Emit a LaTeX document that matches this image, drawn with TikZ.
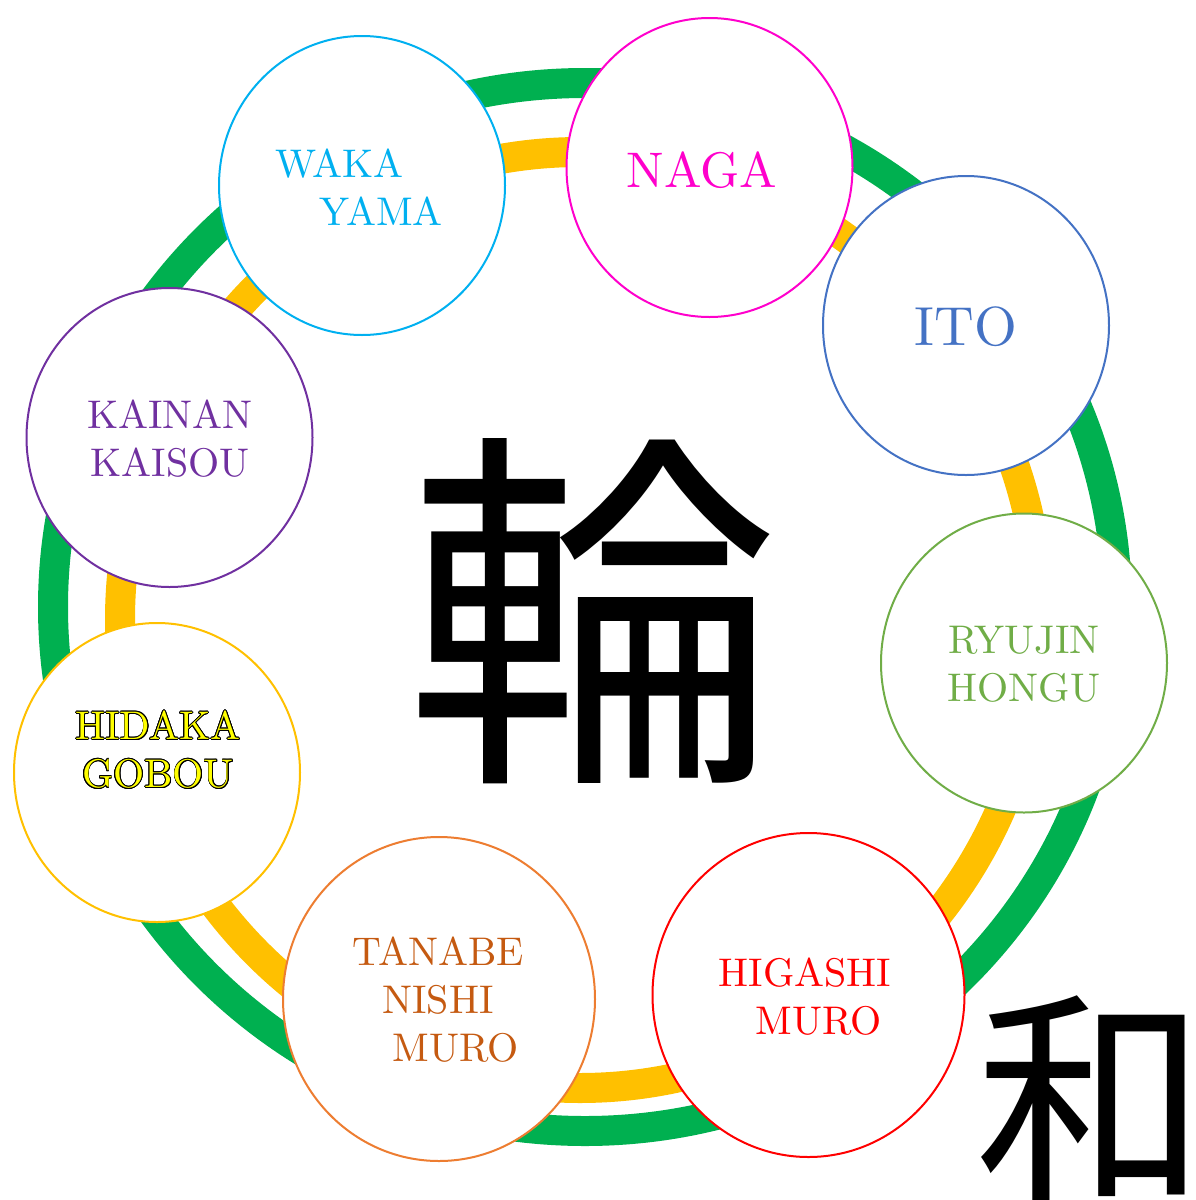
\documentclass[tikz,border=0pt]{standalone}
\usepackage{fontspec}
\setmainfont{lmroman10-regular.otf}
\newfontfamily\cjk{Noto Sans CJK JP}
\usepackage{contour}
\contourlength{0.7pt}
\usetikzlibrary{shapes.geometric}
\definecolor{ringgreen}{HTML}{00B050}
\definecolor{ringyellow}{HTML}{FFC000}
\definecolor{cmag}{HTML}{FF00CC}
\definecolor{ccyan}{HTML}{00B0F0}
\definecolor{cblue}{HTML}{4472C4}
\definecolor{cgreen}{HTML}{70AD47}
\definecolor{cred}{HTML}{FF0000}
\definecolor{corange}{HTML}{ED7D31}
\definecolor{corangetext}{HTML}{C55A11}
\definecolor{cpurple}{HTML}{7030A0}
\definecolor{cyellow}{HTML}{FFFF00}
\tikzset{
  station/.style={ellipse, draw=#1, fill=white, line width=2pt, inner sep=0pt,
    minimum width=286pt, minimum height=299pt},
  bigstation/.style={station=#1, minimum width=312pt, minimum height=324pt},
  lbl/.style={text=#1, inner sep=0pt, align=center, font=\fontsize{40}{48}\selectfont},
  ring/.style={line width=30pt, draw=#1}
}
\begin{document}
\begin{tikzpicture}[x=1pt,y=-1pt]
\useasboundingbox (0,0) rectangle (1195,1200);
% rings
\draw[ring=ringgreen] (585,607) ellipse [x radius=532pt, y radius=524pt];
\draw[ring=ringyellow] (580,620) ellipse [x radius=460pt, y radius=468pt];
% stations
\node[station=ccyan] (waka) at (362,185.5) {};
\node[station=cmag] (naga) at (709.5,167.5) {};
\node[station=cblue] (ito) at (966,325.5) {};
\node[station=cgreen] (ryujin) at (1024,663) {};
\node[bigstation=cred] (higashi) at (808.5,995) {};
\node[bigstation=corange] (tanabe) at (439,999) {};
\node[station=ringyellow] (hidaka) at (157,772.5) {};
\node[station=cpurple] (kainan) at (169.5,437.5) {};
% labels
\node[lbl=ccyan, align=left] (waka-t) at (359,187) {WAKA\\\hspace*{44pt}YAMA};
\node[lbl=cmag, font=\fontsize{50}{56}\selectfont] (naga-t) at (702,170) {NAGA};
\node[lbl=cblue, font=\fontsize{55}{60}\selectfont] (ito-t) at (966,327) {ITO};
\node[lbl=cgreen] (ryujin-t) at (1024,664) {RYUJIN\\HONGU};
\node[lbl=cred, align=left] (higashi-t) at (805,997) {HIGASHI\\\hspace*{37pt}MURO};
\node[lbl=corangetext] (tanabe-t) at (438,1000) {TANABE\\NISHI\\\hspace*{36pt}MURO};
\node[lbl=cyellow] (hidaka-t) at (158,750) {\contour{black}{HIDAKA}\\\contour{black}{GOBOU}};
\node[lbl=cpurple] (kainan-t) at (170,439) {KAINAN\\KAISOU};
% kanji
\node[inner sep=0pt, font=\cjk\fontsize{375}{375}\selectfont] (wa-center) at (593,611) {輪};
\node[inner sep=0pt, font=\cjk\fontsize{232}{232}\selectfont] (wa-corner) at (1091,1101) {和};
\end{tikzpicture}
\end{document}
